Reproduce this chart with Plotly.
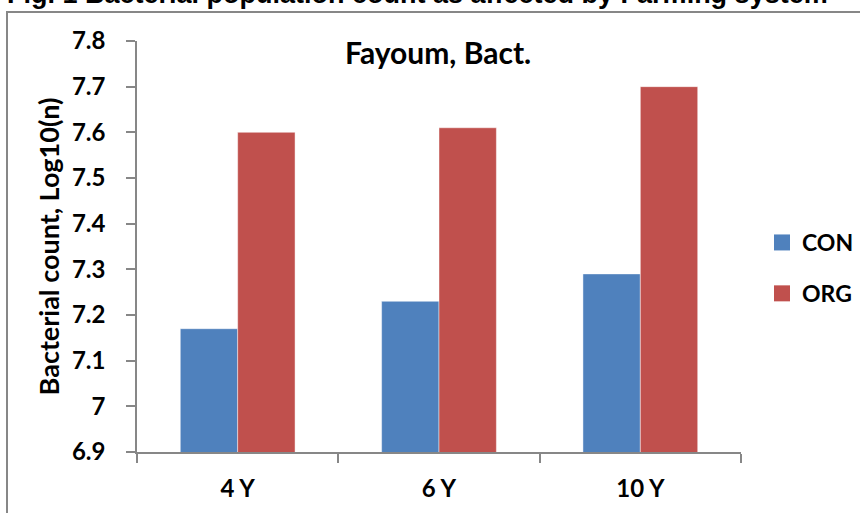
import plotly.graph_objects as go

# Bacterial counts (log10) by years under each farming system
categories = ["4 Y", "6 Y", "10 Y"]
con_values = [7.17, 7.23, 7.29]
org_values = [7.60, 7.61, 7.70]
y_ticks = [6.9, 7.0, 7.1, 7.2, 7.3, 7.4, 7.5, 7.6, 7.7, 7.8]

BLUE = "#4F81BD"
RED = "#C0504D"
AXIS_GREY = "#878787"
FONT = "Lato"

W, H = 860, 513
L, R, T, B = 137, 119, 41, 61
pw, ph = W - L - R, H - T - B


def px_x(x):
    return (x - L) / pw


def px_y(y):
    return (H - B - y) / ph


fig = go.Figure()
fig.add_trace(go.Bar(x=categories, y=con_values, name="CON", marker_color=BLUE,
                     marker_line=dict(color="rgba(255,255,255,0.45)", width=1),
                     showlegend=False))
fig.add_trace(go.Bar(x=categories, y=org_values, name="ORG", marker_color=RED,
                     marker_line=dict(color="rgba(255,255,255,0.45)", width=1),
                     showlegend=False))

# legend entries with larger square swatches
for name, color in [("CON", BLUE), ("ORG", RED)]:
    fig.add_trace(go.Scatter(x=[None], y=[None], mode="markers", name=name,
                             legendgroup=name,
                             marker=dict(symbol="square", size=16, color=color)))

fig.update_layout(
    width=W, height=H,
    margin=dict(l=L, r=R, t=T, b=B, autoexpand=False),
    paper_bgcolor="white", plot_bgcolor="white",
    barmode="group", bargap=0.43, bargroupgap=0,
    font=dict(family=FONT, color="black"),
    legend=dict(x=px_x(762), y=px_y(221), xanchor="left", yanchor="top",
                font=dict(family=FONT, size=23, weight="bold"),
                tracegroupgap=18, itemsizing="trace", bgcolor="rgba(0,0,0,0)"),
    xaxis=dict(
        type="category", showline=True, linecolor=AXIS_GREY, linewidth=1.5,
        ticks="outside", tickson="boundaries", ticklen=9, tickcolor=AXIS_GREY,
        tickwidth=1.5, showgrid=False, zeroline=False, automargin=False,
        tickfont=dict(family=FONT, size=24, weight="bold"),
        ticklabelstandoff=14,
    ),
    yaxis=dict(
        range=[6.9, 7.8], tickvals=y_ticks, showline=True, linecolor=AXIS_GREY,
        linewidth=1.5, ticks="outside", ticklen=9, tickcolor=AXIS_GREY,
        tickwidth=1.5, showgrid=False, zeroline=False, automargin=False,
        tickfont=dict(family=FONT, size=24, weight="bold"),
        ticklabelstandoff=16,
        title=dict(text="Bacterial count, Log10(n)", standoff=4,
                   font=dict(family=FONT, size=27, weight="bold")),
    ),
    shapes=[dict(type="rect", xref="paper", yref="paper",
                 x0=px_x(7), y0=px_y(560), x1=px_x(900), y1=px_y(12),
                 line=dict(color=AXIS_GREY, width=2), fillcolor="rgba(0,0,0,0)",
                 layer="below")],
    annotations=[
        dict(text="Fayoum, Bact.", xref="paper", yref="paper",
             x=px_x(438), y=px_y(52), xanchor="center", yanchor="middle",
             showarrow=False, font=dict(family=FONT, size=30, weight="bold")),
        dict(text="<b>Fig. 1 Bacterial population count as affected by Farming system</b>",
             xref="paper", yref="paper", x=px_x(5), y=px_y(11),
             xanchor="left", yanchor="bottom", showarrow=False,
             font=dict(family="Liberation Sans", size=27, color="black")),
    ],
)

fig.write_html("out.html")
